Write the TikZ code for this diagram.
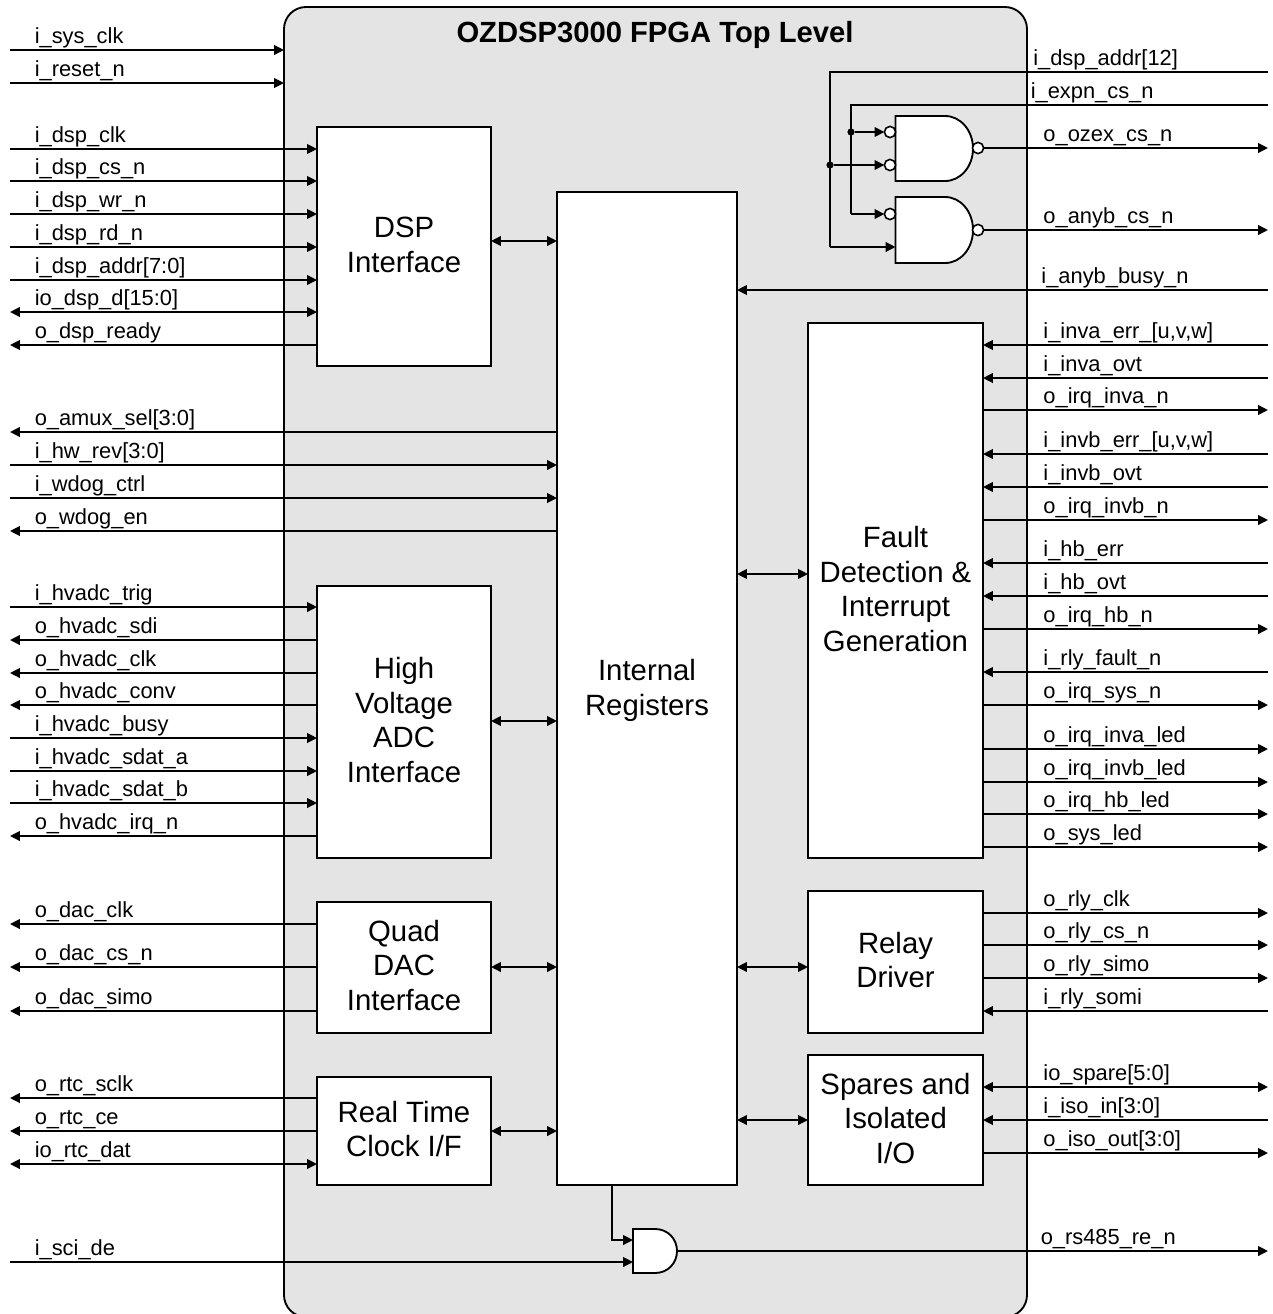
\documentclass[tikz,border=0pt]{standalone}
\usepackage{fontspec}
\setmainfont{Liberation Sans}
\usetikzlibrary{arrows.meta,calc}
\tikzset{
  tri/.tip={Triangle[length=7.4pt,width=7.2pt]},
  wire/.style={line width=1.4pt,black},
  sigin/.style={wire,-{tri}},
  sigout/.style={wire,{tri}-},
  sigboth/.style={wire,{tri}-{tri}},
  signone/.style={wire},
  lab/.style={anchor=base west,inner sep=0pt,font=\fontsize{16.4}{18}\selectfont},
  blockbox/.style={draw=black,line width=1.4pt,fill=white,inner sep=0pt,outer sep=0pt},
  blocktext/.style={inner sep=0pt,align=center,font=\fontsize{22}{26.1}\selectfont},
  chipbox/.style={draw=black,line width=1.4pt,fill=chipgray,rounded corners=16.5pt,inner sep=0pt,outer sep=0pt},
  titletext/.style={inner sep=0pt,font=\bfseries\fontsize{21.9}{26}\selectfont},
  gateshape/.style={draw=black,line width=1.4pt,fill=white},
  bubble/.style={circle,draw=black,line width=1.2pt,fill=white,minimum size=8.4pt,inner sep=0pt,outer sep=0pt},
  junction/.style={circle,fill=black,minimum size=5.4pt,inner sep=0pt,outer sep=0pt},
}
\definecolor{chipgray}{HTML}{E4E4E4}
% id, x1, y1, x2, y2, text y offset, text
\newcommand\blk[7]{\node[blockbox,minimum width={(#4-#2)*0.75pt},minimum height={(#5-#3)*0.75pt}] (#1) at ({(#2+#4)/2},{(#3+#5)/2}) {};
  \node[blocktext] (#1t) at ({(#2+#4)/2},{(#3+#5)/2+#6}) {#7};}
% id, y, label, target node, style (left side)
\newcommand\lsig[5]{\coordinate (#1) at (10,#2);
  \node[lab] (#1t) at (34.5,#2-7) {#3};
  \draw[#5] (#1) -- (#1 -| #4.west);}
% id, y, label x, label, source node, style (right side; start at block)
\newcommand\rsig[6]{\coordinate (#1) at (1268,#2);
  \node[lab] (#1t) at (#3-0.8,#2-6.6) {#4};
  \draw[#6] (#1 -| #5.east) -- (#1);}
\begin{document}
\begin{tikzpicture}[x=0.75pt,y=-0.75pt]
\useasboundingbox (0,0) rectangle (1273,1314);
\fill[white] (0,0) rectangle (1273,1314);
\begin{scope}
\clip (0,0) rectangle (1273,1314);
\node[chipbox,minimum width={743*0.75pt},minimum height={1310*0.75pt}] (chip) at (655.5,662) {};
\end{scope}
\node[titletext] (title) at (655,35) {OZDSP3000 FPGA Top Level};
\blk{dsp}{317}{127}{491}{366}{-2}{DSP\\Interface}
\blk{reg}{557}{192}{737}{1185}{2}{Internal\\Registers}
\blk{hv}{317}{586}{491}{858}{-2}{High\\Voltage\\ADC\\Interface}
\blk{dac}{317}{902}{491}{1033}{-2}{Quad\\DAC\\Interface}
\blk{rtc}{317}{1077}{491}{1185}{-2}{Real Time\\Clock I/F}
\blk{fault}{808}{323}{983}{858}{-1.5}{Fault\\Detection \&\\Interrupt\\Generation}
\blk{relay}{808}{891}{983}{1033}{-2}{Relay\\Driver}
\blk{spare}{808}{1055}{983}{1185}{-1.5}{Spares and\\Isolated\\I/O}

% left signals
\lsig{a1}{50}{i\_sys\_clk}{chip}{sigin}
\lsig{a2}{83}{i\_reset\_n}{chip}{sigin}
\lsig{b1}{149}{i\_dsp\_clk}{dsp}{sigin}
\lsig{b2}{181}{i\_dsp\_cs\_n}{dsp}{sigin}
\lsig{b3}{214}{i\_dsp\_wr\_n}{dsp}{sigin}
\lsig{b4}{247}{i\_dsp\_rd\_n}{dsp}{sigin}
\lsig{b5}{280}{i\_dsp\_addr[7:0]}{dsp}{sigin}
\lsig{b6}{312}{io\_dsp\_d[15:0]}{dsp}{sigboth}
\lsig{b7}{345}{o\_dsp\_ready}{dsp}{sigout}
\lsig{c1}{432}{o\_amux\_sel[3:0]}{reg}{sigout}
\lsig{c2}{465}{i\_hw\_rev[3:0]}{reg}{sigin}
\lsig{c3}{498}{i\_wdog\_ctrl}{reg}{sigin}
\lsig{c4}{531}{o\_wdog\_en}{reg}{sigout}
\lsig{d1}{607}{i\_hvadc\_trig}{hv}{sigin}
\lsig{d2}{640}{o\_hvadc\_sdi}{hv}{sigout}
\lsig{d3}{673}{o\_hvadc\_clk}{hv}{sigout}
\lsig{d4}{705}{o\_hvadc\_conv}{hv}{sigout}
\lsig{d5}{738}{i\_hvadc\_busy}{hv}{sigin}
\lsig{d6}{771}{i\_hvadc\_sdat\_a}{hv}{sigin}
\lsig{d7}{803}{i\_hvadc\_sdat\_b}{hv}{sigin}
\lsig{d8}{836}{o\_hvadc\_irq\_n}{hv}{sigout}
\lsig{e1}{924}{o\_dac\_clk}{dac}{sigout}
\lsig{e2}{967}{o\_dac\_cs\_n}{dac}{sigout}
\lsig{e3}{1011}{o\_dac\_simo}{dac}{sigout}
\lsig{f1}{1098}{o\_rtc\_sclk}{rtc}{sigout}
\lsig{f2}{1131}{o\_rtc\_ce}{rtc}{sigout}
\lsig{f3}{1164}{io\_rtc\_dat}{rtc}{sigboth}

% right signals
\rsig{g1}{290}{1042}{i\_anyb\_busy\_n}{reg}{sigout}
\rsig{h1}{345}{1044}{i\_inva\_err\_[u,v,w]}{fault}{sigout}
\rsig{h2}{378}{1044}{i\_inva\_ovt}{fault}{sigout}
\rsig{h3}{410}{1044}{o\_irq\_inva\_n}{fault}{sigin}
\rsig{h4}{454}{1044}{i\_invb\_err\_[u,v,w]}{fault}{sigout}
\rsig{h5}{487}{1044}{i\_invb\_ovt}{fault}{sigout}
\rsig{h6}{520}{1044}{o\_irq\_invb\_n}{fault}{sigin}
\rsig{h7}{563}{1044}{i\_hb\_err}{fault}{sigout}
\rsig{h8}{596}{1044}{i\_hb\_ovt}{fault}{sigout}
\rsig{h9}{629}{1044}{o\_irq\_hb\_n}{fault}{sigin}
\rsig{h10}{672}{1044}{i\_rly\_fault\_n}{fault}{sigout}
\rsig{h11}{705}{1044}{o\_irq\_sys\_n}{fault}{sigin}
\rsig{h12}{749}{1044}{o\_irq\_inva\_led}{fault}{sigin}
\rsig{h13}{782}{1044}{o\_irq\_invb\_led}{fault}{sigin}
\rsig{h14}{814}{1044}{o\_irq\_hb\_led}{fault}{sigin}
\rsig{h15}{847}{1044}{o\_sys\_led}{fault}{sigin}
\rsig{k1}{913}{1044}{o\_rly\_clk}{relay}{sigin}
\rsig{k2}{945}{1044}{o\_rly\_cs\_n}{relay}{sigin}
\rsig{k3}{978}{1044}{o\_rly\_simo}{relay}{sigin}
\rsig{k4}{1011}{1044}{i\_rly\_somi}{relay}{sigout}
\rsig{m1}{1087}{1044}{io\_spare[5:0]}{spare}{sigboth}
\rsig{m2}{1120}{1044}{i\_iso\_in[3:0]}{spare}{sigout}
\rsig{m3}{1153}{1044}{o\_iso\_out[3:0]}{spare}{sigin}

% block to block
\coordinate (y1) at (0,241); \draw[sigboth] (dsp.east |- y1) -- (reg.west |- y1);
\coordinate (y2) at (0,721); \draw[sigboth] (hv.east |- y2) -- (reg.west |- y2);
\coordinate (y3) at (0,967); \draw[sigboth] (dac.east |- y3) -- (reg.west |- y3);
\coordinate (y4) at (0,1131); \draw[sigboth] (rtc.east |- y4) -- (reg.west |- y4);
\coordinate (y5) at (0,574); \draw[sigboth] (reg.east |- y5) -- (fault.west |- y5);
\coordinate (y6) at (0,967); \draw[sigboth] (reg.east |- y6) -- (relay.west |- y6);
\coordinate (y7) at (0,1120); \draw[sigboth] (reg.east |- y7) -- (spare.west |- y7);

% NAND gates
\draw[gateshape] (895.5,116) -- (945,116) .. controls (961,116) and (973,131) .. (973,148.5) .. controls (973,166) and (961,181) .. (945,181) -- (895.5,181) -- cycle;
\draw[gateshape] (895.5,197) -- (945,197) .. controls (961,197) and (973,212) .. (973,230) .. controls (973,248) and (961,263) .. (945,263) -- (895.5,263) -- cycle;
\coordinate (g1in) at (895.5,247);
\node[bubble] (p1) at (890,132) {};
\node[bubble] (p2) at (890,165) {};
\node[bubble] (p3) at (890,214) {};
\node[bubble] (q1) at (978,148) {};
\node[bubble] (q2) at (978,230) {};
\coordinate (addr) at (1268,72);
\coordinate (expn) at (1268,105);
\coordinate (addrx) at (830,72);
\coordinate (expnx) at (851,105);
\node[lab] (addrt) at (1033,65) {i\_dsp\_addr[12]};
\node[lab] (expnt) at (1030.5,98) {i\_expn\_cs\_n};
\node[junction] (ja) at (830,165) {};
\node[junction] (je) at (851,132) {};
\draw[signone] (addr) -- (addrx) -- (addrx |- g1in);
\draw[sigin] (addrx |- g1in) -- (g1in);
\draw[signone] (expn) -- (expnx) -- (expnx |- p3);
\draw[sigin] (expnx |- p3) -- (p3.west);
\draw[sigin] (je) -- (p1.west);
\draw[sigin] (ja) -- (p2.west);
\coordinate (oz) at (1268,148);
\coordinate (an) at (1268,230);
\node[lab] (ozt) at (1043.2,141.4) {o\_ozex\_cs\_n};
\node[lab] (ant) at (1043.2,223.4) {o\_anyb\_cs\_n};
\draw[sigin] (q1.east) -- (oz);
\draw[sigin] (q2.east) -- (an);

% AND gate
\draw[gateshape] (633,1229) -- (655,1229) .. controls (668,1229) and (677,1239) .. (677,1251) .. controls (677,1263) and (668,1273) .. (655,1273) -- (633,1273) -- cycle;
\coordinate (andout) at (677,1251);
\coordinate (andina) at (633,1240);
\coordinate (andinb) at (633,1262);
\coordinate (regtap) at (612,1185);
\draw[sigin] (regtap) -- (regtap |- andina) -- (andina);
\coordinate (sci) at (10,1262);
\node[lab] (scit) at (34.5,1255) {i\_sci\_de};
\draw[sigin] (sci) -- (andinb);
\coordinate (rs) at (1268,1251);
\node[lab] (rst) at (1040.5,1244) {o\_rs485\_re\_n};
\draw[sigin] (andout) -- (rs);
\end{tikzpicture}
\end{document}
